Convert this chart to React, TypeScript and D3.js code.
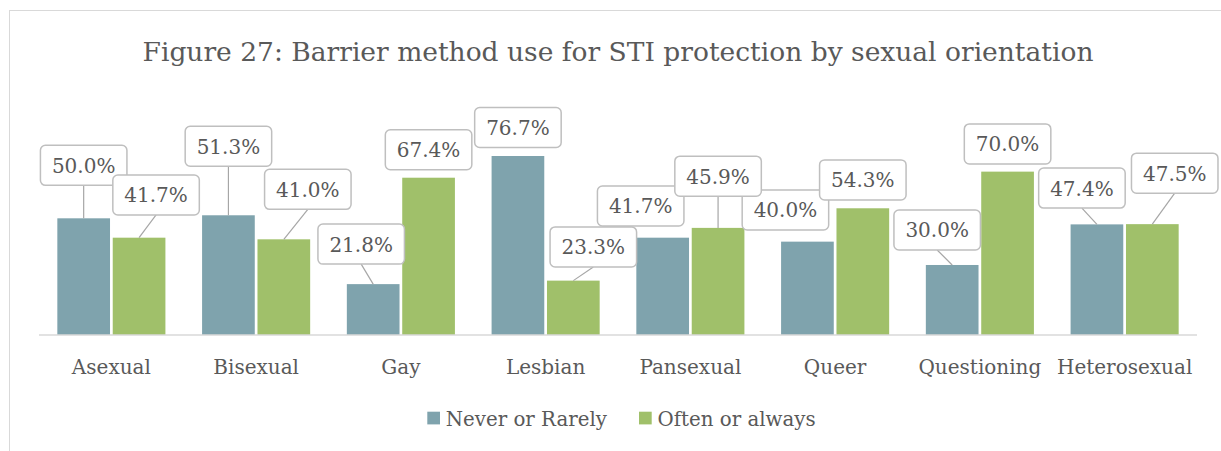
import React, { useRef, useEffect } from 'react';
import * as d3 from 'd3';

const categories = ['Asexual', 'Bisexual', 'Gay', 'Lesbian', 'Pansexual', 'Queer', 'Questioning', 'Heterosexual'];
const seriesNames = ['Never or Rarely', 'Often or always'];
const neverOrRarely = [50.0, 51.3, 21.8, 76.7, 41.7, 40.0, 30.0, 47.4];
const oftenOrAlways = [41.7, 41.0, 67.4, 23.3, 45.9, 54.3, 70.0, 47.5];
const colors = ['#7fa3ad', '#a0c06a'];

// callout placement (box centre dx, box bottom dy, relative to the bar top)
const neverLabelOffsets = [[0, -33], [0, -49], [-12, -20], [0, -8.5], [-22, -11.7], [-22, -11.7], [-15, -15], [-15, -16.3]];
const oftenLabelOffsets = [[17, -22.7], [24, -30], [0, -8], [20, -13.7], [0, -31.7], [0, -8.4], [0, -7.7], [22.4, -31]];

const App = () => {
    const chartRef = useRef<HTMLDivElement>(null);

    useEffect(() => {
        const width = 1221;
        const height = 451;
        const axisY = 335;
        const font = '"DejaVu Serif", serif';
        const textColor = '#595959';

        const x = d3.scaleBand(categories, [39, 1197]);
        const xInner = d3.scaleBand([0, 1], [0, x.bandwidth()]).paddingInner(0.049).paddingOuter(0.331);
        const y = d3.scaleLinear([0, 80], [axisY, 148.3]);

        const svg = d3.create('svg')
            .attr('viewBox', [0, 0, width, height])
            .attr('width', width)
            .attr('height', height)
            .style('display', 'block')
            .style('font-family', font);

        svg.append('rect')
            .attr('width', width)
            .attr('height', height)
            .attr('fill', '#fff');

        // chart frame (continues past the right and bottom edges)
        svg.append('rect')
            .attr('x', 9.5)
            .attr('y', 10.5)
            .attr('width', 1400)
            .attr('height', 600)
            .attr('fill', 'none')
            .attr('stroke', '#d9d9d9');

        svg.append('text')
            .attr('x', 618)
            .attr('y', 60.7)
            .attr('text-anchor', 'middle')
            .attr('font-size', 26.5)
            .attr('fill', textColor)
            .text('Figure 27: Barrier method use for STI protection by sexual orientation');

        const series = [neverOrRarely, oftenOrAlways];
        const offsets = [neverLabelOffsets, oftenLabelOffsets];

        const bars = series.flatMap((vals, s) => vals.map((v, i) => ({
            s, i, v,
            cx: x(categories[i])! + xInner(s)! + xInner.bandwidth() / 2,
            top: y(v),
            off: offsets[s][i],
        })));

        svg.append('g')
            .selectAll('rect')
            .data(bars)
            .join('rect')
            .attr('x', d => x(categories[d.i])! + xInner(d.s)!)
            .attr('y', d => d.top)
            .attr('width', xInner.bandwidth())
            .attr('height', d => axisY - d.top)
            .attr('fill', d => colors[d.s]);

        svg.append('line')
            .attr('x1', 39)
            .attr('x2', 1197)
            .attr('y1', axisY)
            .attr('y2', axisY)
            .attr('stroke', '#d9d9d9')
            .attr('stroke-width', 1.5);

        // category labels
        svg.append('g')
            .selectAll('text')
            .data(categories)
            .join('text')
            .attr('x', d => x(d)! + x.bandwidth() / 2)
            .attr('y', 373.5)
            .attr('text-anchor', 'middle')
            .attr('font-size', 20)
            .attr('fill', textColor)
            .text(d => d);

        // data label callouts
        const boxW = 86.5;
        const boxH = 40;
        const labels = svg.append('g');
        bars.forEach(d => {
            const bx = d.cx + d.off[0];
            const bottom = d.top + d.off[1];
            if (d.top - bottom > 12.5) {
                labels.append('line')
                    .attr('x1', bx)
                    .attr('y1', bottom)
                    .attr('x2', d.cx)
                    .attr('y2', d.top)
                    .attr('stroke', '#a6a6a6')
                    .attr('stroke-width', 1.2);
            }
            labels.append('rect')
                .attr('x', bx - boxW / 2)
                .attr('y', bottom - boxH)
                .attr('width', boxW)
                .attr('height', boxH)
                .attr('rx', 5)
                .attr('fill', '#fff')
                .attr('stroke', '#bfbfbf')
                .attr('stroke-width', 1.5);
            labels.append('text')
                .attr('x', bx)
                .attr('y', bottom - boxH / 2 + 7.5)
                .attr('text-anchor', 'middle')
                .attr('font-size', 20)
                .attr('fill', textColor)
                .text(d3.format('.1f')(d.v) + '%');
        });

        // legend
        const legendX = [427.3, 639];
        const legend = svg.append('g')
            .selectAll('g')
            .data(seriesNames)
            .join('g')
            .attr('transform', (_, i) => `translate(${legendX[i]},0)`);
        legend.append('rect')
            .attr('y', 411.7)
            .attr('width', 12.7)
            .attr('height', 12.7)
            .attr('fill', (_, i) => colors[i]);
        legend.append('text')
            .attr('x', 18.5)
            .attr('y', 425.7)
            .attr('font-size', 19.8)
            .attr('fill', textColor)
            .text(d => d);

        chartRef.current!.appendChild(svg.node()!);

        return () => {
            if (chartRef.current) chartRef.current.innerHTML = '';
        };
    }, []);

    return <div ref={chartRef} style={{ position: 'absolute', left: 0, top: 0 }}></div>;
};

export default App;
